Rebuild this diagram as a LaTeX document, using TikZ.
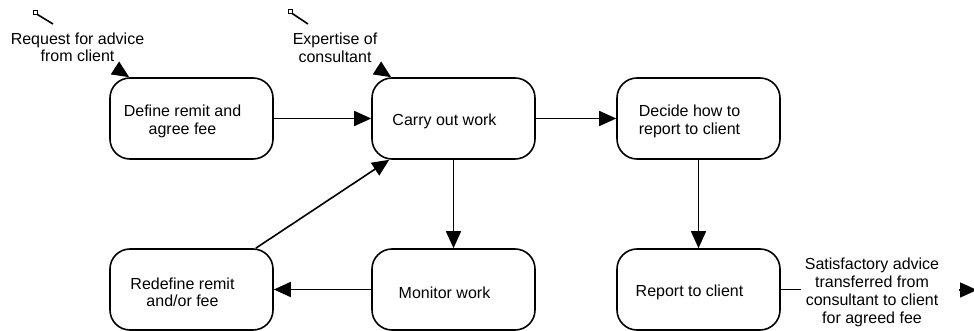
\documentclass[tikz,border=0pt]{standalone}
\usepackage{fontspec}
\setmainfont{Liberation Sans}
\usetikzlibrary{arrows.meta,%
                calc}

\begin{document}
\begin{tikzpicture}[x=1pt,y=-1pt,
  proc/.style={draw,line width=1.6pt,rounded corners=20pt,minimum width=163pt,minimum height=81pt,inner sep=0pt},
  txt/.style={font=\fontsize{16}{17.5}\selectfont,align=center,inner sep=0pt},
  boxtxt/.style={txt,xshift=-9pt,yshift=-3pt},
  flow/.style={line width=1.6pt,-{Triangle[length=17pt,width=15pt]}},
  wire/.style={line width=1.6pt},
  tab/.style={draw,line width=1pt,fill=white,minimum size=4pt,inner sep=0pt}]
\useasboundingbox (0,0) rectangle (974,331);

\node[proc,label={[boxtxt]center:{Define remit and\\agree fee}}] (define) at (191.5,118.5) {};
\node[proc,label={[boxtxt]center:{Carry out work}}] (carry) at (453.5,118.5) {};
\node[proc,label={[boxtxt]center:{Decide how to\\report to client}}] (decide) at (698.5,118.5) {};
\node[proc,label={[boxtxt]center:{Redefine remit\\and/or fee}}] (redefine) at (191.5,289.5) {};
\node[proc,label={[boxtxt]center:{Monitor work}}] (monitor) at (453.5,289.5) {};
\node[proc,label={[boxtxt]center:{Report to client}}] (report) at (698.5,289.5) {};

\node[tab] (reqtab) at (35,13) {};
\coordinate (reqcut) at (53,24);
\node[txt] (req) at (77.5,47.5) {Request for advice\\from client};
\coordinate (reqin) at (115,68);

\node[tab] (exptab) at (290,12) {};
\coordinate (expcut) at (308,24);
\node[txt] (exp) at (335,48) {Expertise of\\consultant};
\coordinate (expin) at (377,68);

\node[txt,font=\fontsize{16}{18}\selectfont,inner xsep=4pt] (out) at (872,292.5) {Satisfactory advice\\transferred from\\consultant to client\\for agreed fee};
\coordinate (outtail) at (959,290);
\coordinate (outhead) at (977,290);

\draw[wire] (reqtab) -- (reqcut);
\draw[flow] (reqin) -- ($(define.north west)+(20,0)$);
\draw[wire] (exptab) -- (expcut);
\draw[flow] (expin) -- ($(carry.north west)+(20,0)$);

\draw[flow] (define.east) -- (carry.west);
\draw[flow] (carry.east) -- (decide.west);
\draw[flow] (carry.south) -- (monitor.north);
\draw[flow] (decide.south) -- (report.north);
\draw[flow] (monitor.west) -- (redefine.east);
\draw[flow] ($(redefine.north east)+(-18,0)$) -- ($(carry.south west)+(18,0)$);
\draw[wire] (report.east) -- (out.west |- report.east);
\draw[flow] (outtail) -- (outhead);
\end{tikzpicture}
\end{document}
